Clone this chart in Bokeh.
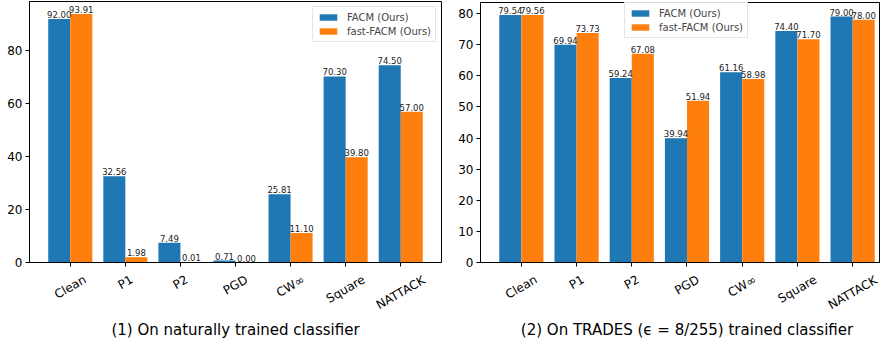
import math
from bokeh.plotting import figure
from bokeh.models import ColumnDataSource, FixedTicker, Range1d, Legend, LegendItem
from bokeh.layouts import row, column
from bokeh.core.properties import value
from bokeh.embed import file_html
from bokeh.resources import INLINE

categories = ["Clean", "P1", "P2", "PGD", "CW∞", "Square", "NATTACK"]
natural_facm = [92.00, 32.56, 7.49, 0.71, 25.81, 70.30, 74.50]
natural_fast = [93.91, 1.98, 0.01, 0.00, 11.10, 39.80, 57.00]
trades_facm = [79.54, 69.94, 59.24, 39.94, 61.16, 74.40, 79.00]
trades_fast = [79.56, 73.73, 67.08, 51.94, 58.98, 71.70, 78.00]
series_names = ["FACM (Ours)", "fast-FACM (Ours)"]
natural_yticks = [0, 20, 40, 60, 80]
trades_yticks = [0, 10, 20, 30, 40, 50, 60, 70, 80]
captions = ["(1) On naturally trained classifier",
            "(2) On TRADES (\u03f5 = 8/255) trained classifier"]

FONT = "DejaVu Sans"
BLUE = "#1f77b4"
ORANGE = "#ff7f0e"
BW = 0.4
TICK_FS = 12
ANGLE = math.pi / 6
XSTART = -0.74
TOP_H = 270      # chart part (frame + ticks)
BOT_H = 69       # strip below holding rotated category labels and caption

# approximate DejaVu Sans advance widths (em) for centring rotated tick labels
CHAR_W = {"C": .698, "l": .278, "e": .615, "a": .613, "n": .634, "P": .603, "1": .636,
          "2": .636, "G": .775, "D": .770, "W": .989, "∞": .833, "S": .635, "q": .635,
          "u": .634, "r": .411, "N": .748, "A": .684, "T": .611, "K": .656}


def text_w(s):
    return sum(CHAR_W.get(ch, 0.6) for ch in s) * TICK_FS


def make_panel(facm, fast, yticks, width, bl, br, bt, xend, legend_loc):
    idx = list(range(len(categories)))
    ymax = max(max(facm), max(fast)) * 1.05
    p = figure(width=width, height=TOP_H, output_backend="svg", toolbar_location=None,
               x_range=Range1d(XSTART, xend), y_range=Range1d(0, ymax),
               min_border_left=bl, min_border_right=br, min_border_top=bt,
               min_border_bottom=8)
    p.xgrid.visible = False
    p.ygrid.visible = False
    p.outline_line_color = "black"
    p.outline_line_width = 1
    p.background_fill_color = "white"

    src1 = ColumnDataSource(dict(x=[i - BW / 2 for i in idx], top=facm,
                                 lab=["%.2f" % v for v in facm]))
    src2 = ColumnDataSource(dict(x=[i + BW / 2 for i in idx], top=fast,
                                 lab=["%.2f" % v for v in fast]))
    r1 = p.vbar(x="x", top="top", width=BW, source=src1, fill_color=BLUE, line_color=None)
    r2 = p.vbar(x="x", top="top", width=BW, source=src2, fill_color=ORANGE, line_color=None)
    for s in (src1, src2):
        p.text(x="x", y="top", text="lab", source=s, text_align="center",
               text_baseline="bottom", text_font_size="8.5px", text_color="#222222",
               text_font=value(FONT), y_offset=-1)

    # x axis: tick marks only (category names are drawn rotated in the strip below)
    p.xaxis.ticker = FixedTicker(ticks=idx)
    p.xaxis.major_label_overrides = {i: "" for i in idx}
    p.xaxis.major_label_text_font_size = "0px"
    p.xaxis.major_label_standoff = 0
    p.yaxis.ticker = FixedTicker(ticks=yticks)
    p.yaxis.major_label_text_font = FONT
    p.yaxis.major_label_text_font_size = "%dpx" % TICK_FS
    p.yaxis.major_label_text_color = "black"
    p.yaxis.major_label_standoff = 3
    for ax in (p.xaxis[0], p.yaxis[0]):
        ax.axis_line_color = "black"
        ax.major_tick_line_color = "black"
        ax.major_tick_out = 4
        ax.major_tick_in = 0
        ax.minor_tick_out = 0
        ax.minor_tick_in = 0

    legend = Legend(items=[LegendItem(label=series_names[0], renderers=[r1]),
                           LegendItem(label=series_names[1], renderers=[r2])],
                    location=legend_loc, label_text_font=FONT,
                    label_text_font_size="10px", glyph_width=22, glyph_height=8,
                    label_height=12, label_standoff=8, spacing=2, padding=4, margin=5,
                    border_line_color="#cccccc", border_line_width=1,
                    background_fill_alpha=0.9)
    p.add_layout(legend)
    return p


def make_strip(caption, width, bl, br, xend):
    idx = list(range(len(categories)))
    s = figure(width=width, height=BOT_H, output_backend="svg", toolbar_location=None,
               x_range=Range1d(XSTART, xend), y_range=Range1d(0, BOT_H),
               x_axis_location=None, y_axis_location=None,
               min_border_left=bl, min_border_right=br, min_border_top=0,
               min_border_bottom=0)
    s.xgrid.visible = False
    s.ygrid.visible = False
    s.outline_line_color = None
    # matplotlib style: rotated label's bounding box centred under its tick
    top = BOT_H - 2
    ys = [top - (text_w(c) * math.sin(ANGLE) + 12.1) / 2 for c in categories]
    s.text(x=idx, y=ys, text=categories, angle=ANGLE, text_align="center",
           text_baseline="middle", text_font=value(FONT),
           text_font_size="%dpx" % TICK_FS, text_color="black")
    s.text(x=[(XSTART + 6.74) / 2], y=[10], text=[caption], text_align="center",
           text_baseline="middle", text_font=value(FONT), text_font_size="15px",
           text_color="black")
    return s


p1 = make_panel(natural_facm, natural_fast, natural_yticks,
                452, 29, 11, 1, 6.74, "top_right")
s1 = make_strip(captions[0], 452, 29, 11, 6.74)
p2 = make_panel(trades_facm, trades_fast, trades_yticks,
                428, 28, 0, 2, 6.505, (144, 224))
s2 = make_strip(captions[1], 428, 28, 0, 6.505)
p = row(column(p1, s1), column(p2, s2))

open("out.html", "w").write(file_html(p, INLINE))
